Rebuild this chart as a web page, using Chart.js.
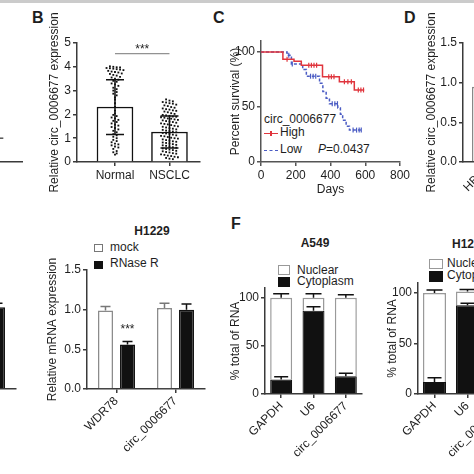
<!DOCTYPE html>
<html>
<head>
<meta charset="utf-8">
<script src="https://cdn.jsdelivr.net/npm/chart.js@4.4.1/dist/chart.umd.min.js"></script>
<style>
  body { margin: 0; background: #fff; }
  #fig { position: relative; width: 474px; height: 474px; overflow: hidden; background: #fff;
         font-family: "Liberation Sans", Arial, sans-serif; color: #1e1e1e; }
  #fig canvas { position: absolute; }
  .t { position: absolute; font-size: 12px; line-height: 14px; white-space: nowrap; }
  .letter { position: absolute; font-size: 16px; line-height: 18px; font-weight: bold; }
  .bold { font-weight: bold; }
  .sw { position: absolute; box-sizing: border-box; }
</style>
</head>
<body>
<div id="fig">
  <div style="position:absolute;left:0;top:0;width:474px;height:3px;background:#cbcbcb"></div>

  <div class="letter" style="left:32px;top:9px">B</div>
  <div class="letter" style="left:213px;top:9px">C</div>
  <div class="letter" style="left:404px;top:9px">D</div>
  <div class="letter" style="left:231px;top:215px">F</div>

  <!-- C legend -->
  <div class="t" style="left:264px;top:112px">circ_0006677</div>
  <div class="sw" style="left:264px;top:133px;width:14px;height:0;border-top:1.5px solid #e0353d"></div>
  <div class="sw" style="left:270px;top:131px;width:1.5px;height:5px;background:#e0353d"></div>
  <div class="t" style="left:280px;top:125px">High</div>
  <div class="sw" style="left:264px;top:150px;width:14px;height:0;border-top:1.5px dashed #4b5cc4"></div>
  <div class="t" style="left:280px;top:142px">Low</div>
  <div class="t" style="left:318px;top:142px"><i>P</i>=0.0437</div>

  <!-- E legend -->
  <div class="t bold" style="left:122px;top:224px;width:60px;text-align:center">H1229</div>
  <div class="sw" style="left:94px;top:244px;width:9px;height:8px;border:1.2px solid #777;background:#fff"></div>
  <div class="t" style="left:110px;top:240px">mock</div>
  <div class="sw" style="left:94px;top:261px;width:9px;height:8px;background:#111"></div>
  <div class="t" style="left:110px;top:256px">RNase R</div>

  <!-- F legends -->
  <div class="t bold" style="left:285px;top:236px;width:60px;text-align:center">A549</div>
  <div class="sw" style="left:278px;top:265px;width:12px;height:10px;border:1.2px solid #999;background:#fff"></div>
  <div class="t" style="left:297px;top:263px">Nuclear</div>
  <div class="sw" style="left:278px;top:277px;width:12px;height:10px;background:#111"></div>
  <div class="t" style="left:297px;top:274px">Cytoplasm</div>

  <div class="t bold" style="left:452px;top:237px">H1229</div>
  <div class="sw" style="left:429px;top:259px;width:14px;height:10px;border:1.2px solid #999;background:#fff"></div>
  <div class="t" style="left:447px;top:256px">Nuclear</div>
  <div class="sw" style="left:429px;top:271px;width:14px;height:11px;background:#111"></div>
  <div class="t" style="left:447px;top:268px">Cytoplasm</div>
</div>

<script>
// ---- data ----
// A (only the right edge is in the crop)
const aGroups = ['Normal', 'NSCLC'];
const aMedian = [2.1, 1.0];

// B
const bGroups = ['Normal', 'NSCLC'];
const bMeans = [2.31, 1.26];
const bSD = [1.15, 0.67];
const bNormal = [4.02, 4.0, 3.98, 3.97, 3.95, 3.94, 3.92, 3.9, 3.88, 3.86,
  3.83, 3.8, 3.78, 3.76, 3.72, 3.7, 3.66, 3.63, 3.58, 3.55, 3.5,
  3.46, 3.41, 3.37, 3.3, 3.26, 3.2, 3.12, 3.06, 3.0, 2.94, 2.87, 2.8, 2.71,
  2.62, 2.47, 2.31, 2.16, 2.04, 1.98,
  1.93, 1.87, 1.83, 1.77, 1.73, 1.68, 1.62, 1.57, 1.53, 1.47, 1.43, 1.37, 1.31, 1.25,
  1.17, 1.12, 1.06, 1.0,
  0.93, 0.88, 0.83, 0.77, 0.74, 0.7, 0.65, 0.61, 0.55,
  0.46, 0.41, 0.36, 0.31];
const bNsclc = [2.63, 2.58, 2.55, 2.52, 2.5, 2.47, 2.45, 2.41, 2.38, 2.35,
  2.31, 2.28, 2.25, 2.22, 2.2, 2.17, 2.15, 2.12, 2.09, 2.05, 2.02,
  1.98, 1.96, 1.94, 1.91, 1.9, 1.88, 1.86, 1.83, 1.82, 1.79, 1.77, 1.75, 1.72, 1.7, 1.68, 1.65, 1.62, 1.6,
  1.58, 1.55, 1.52, 1.5, 1.48, 1.45, 1.42, 1.4, 1.37, 1.35, 1.32, 1.3,
  1.28, 1.25, 1.22, 1.2, 1.18, 1.15, 1.12, 1.1, 1.08, 1.05, 1.02, 1.0,
  0.98, 0.95, 0.92, 0.9, 0.87, 0.85, 0.82, 0.8, 0.78, 0.75, 0.72, 0.7,
  0.68, 0.65, 0.62, 0.6, 0.57, 0.55, 0.52, 0.5, 0.47, 0.45, 0.42, 0.4,
  0.37, 0.35, 0.32, 0.3, 0.27, 0.25, 0.22, 0.2, 0.17, 0.14, 0.12];

// C (Kaplan-Meier steps)
const highDays = [0, 126, 190, 232, 354, 451, 537, 594];
const highSurv = [100, 93.5, 91.5, 88, 77.5, 73, 65.5, 65.5];
const highCensor = [150, 275, 290, 305, 320, 390, 405, 420, 480, 500, 520, 560, 575, 590];
const lowDays = [0, 150, 175, 240, 261, 337, 356, 375, 394, 442, 457, 470, 490, 509, 577];
const lowSurv = [100, 97, 89, 84, 78, 71.5, 64, 58, 53, 49, 43.5, 38, 32.5, 29, 29];
const lowCensor = [160, 180, 285, 300, 315, 410, 425, 440, 530, 550, 565, 577];
const cDayTicks = [0, 200, 400, 600, 800];
const cSurvTicks = [0, 50, 100];

// D
const dCells = ['HBE', 'A549', 'H1229', 'H1299', 'H460'];
const dExpr = [0.95, 0.42, 0.35, 0.5, 0.3];
const dTicks = [0, 0.5, 1.0, 1.5];

// E (RNase R)
const eGenes = ['WDR78', 'circ_0006677'];
const eTicks = [0, 0.5, 1.0, 1.5];
const eMockA549 = [1.0, 1.0];
const eMockErrA549 = [0.05, 0.05];
const eRnaseA549 = [0.5, 1.03];
const eRnaseErrA549 = [0.04, 0.05];
const eMockH1229 = [0.99, 1.02];
const eMockErrH1229 = [0.05, 0.06];
const eRnaseH1229 = [0.56, 1.0];
const eRnaseErrH1229 = [0.04, 0.07];

// F (fractionation)
const fGenes = ['GAPDH', 'U6', 'circ_0006677'];
const fTicks = [0, 50, 100];
const fCytoA549 = [15, 86.5, 18.5];
const fCytoErrA549 = [3, 4, 3];
const fNucA549 = [85, 13.5, 81.5];
const fNucErrA549 = [4, 4, 3];
const fCytoH1229 = [12, 88, 20];
const fCytoErrH1229 = [4, 2, 3];
const fNucH1229 = [88, 13.5, 80];
const fNucErrH1229 = [3, 2, 3];

// ---- style ----
const AXIS = '#3a3a3a';
const TXT = '#1e1e1e';
const RED = '#e0353d';
const BLUE = '#4b5cc4';

Chart.defaults.font.family = '"Liberation Sans", Arial, sans-serif';
Chart.defaults.font.size = 12;
Chart.defaults.color = TXT;
Chart.defaults.animation = false;
Chart.defaults.responsive = false;
Chart.defaults.events = [];
Chart.defaults.plugins.legend.display = false;
Chart.defaults.plugins.tooltip.enabled = false;

// error bars from dataset.errUp / errDown
const errorBars = {
  id: 'errorBars',
  afterDatasetsDraw(chart) {
    const ctx = chart.ctx;
    chart.data.datasets.forEach((ds, di) => {
      if (!ds.errUp) return;
      const meta = chart.getDatasetMeta(di);
      const ys = chart.scales[meta.yAxisID];
      ctx.save();
      ctx.strokeStyle = ds.errColor || '#111';
      ctx.lineWidth = 1.5;
      meta.data.forEach((el, i) => {
        const v = ys.getValueForPixel(el.y);
        const up = ys.getPixelForValue(v + ds.errUp[i]);
        const dn = ds.errDown ? ys.getPixelForValue(v - ds.errDown[i]) : el.y;
        const h = ds.capHalf || 6;
        ctx.beginPath();
        ctx.moveTo(el.x, dn);
        ctx.lineTo(el.x, up);
        ctx.moveTo(el.x - h, up);
        ctx.lineTo(el.x + h, up);
        if (ds.errDown) {
          ctx.moveTo(el.x - h, dn);
          ctx.lineTo(el.x + h, dn);
        }
        ctx.stroke();
      });
      ctx.restore();
    });
  }
};

// significance marks
const sig = {
  id: 'sig',
  afterDatasetsDraw(chart, args, opts) {
    if (!opts || !opts.marks) return;
    const { ctx, scales: { x, y } } = chart;
    ctx.save();
    ctx.font = '12px "Liberation Sans", Arial, sans-serif';
    ctx.fillStyle = TXT;
    ctx.textAlign = 'center';
    ctx.textBaseline = 'alphabetic';
    opts.marks.forEach(m => {
      let x0, x1;
      if (m.dataset !== undefined) {
        const el = chart.getDatasetMeta(m.dataset).data[m.index];
        x0 = x1 = el.x;
      } else {
        x0 = x.getPixelForValue(m.from);
        x1 = x.getPixelForValue(m.to);
      }
      if (m.line !== undefined) {
        const ly = y.getPixelForValue(m.line);
        ctx.strokeStyle = '#777';
        ctx.lineWidth = 1;
        ctx.beginPath();
        ctx.moveTo(x0, ly);
        ctx.lineTo(x1, ly);
        ctx.stroke();
      }
      ctx.fillText(m.text, (x0 + x1) / 2, y.getPixelForValue(m.textAt));
    });
    ctx.restore();
  }
};
Chart.register(errorBars, sig);

// ---- layout helpers ----
function place(id, box) {
  const c = document.createElement('canvas');
  c.id = id;
  c.width = box.w;
  c.height = box.h;
  c.style.left = box.x + 'px';
  c.style.top = box.y + 'px';
  c.style.width = box.w + 'px';
  c.style.height = box.h + 'px';
  document.getElementById('fig').appendChild(c);
  return c;
}

// box = canvas, area = wanted plot area (page px), titleX = centre of y title
function frame(box, area, titleX) {
  const left = titleX === null ? 0 : titleX - 7.2 - box.x;
  return {
    box: box,
    padding: { left: left, top: area.t - box.y, right: box.x + box.w - area.r, bottom: 0 },
    yWidth: area.l - box.x - left,
    xHeight: box.y + box.h - area.b,
  };
}

function yAxis(f, min, max, ticks, title, fmt, color) {
  const c = color || AXIS;
  return {
    type: 'linear', min: min, max: max,
    afterBuildTicks: s => { s.ticks = ticks.map(v => ({ value: v })); },
    afterFit: s => { s.width = f.yWidth; s.paddingTop = 0; s.paddingBottom = 0; },
    border: { color: c, width: 1.5 },
    grid: { drawOnChartArea: false, tickLength: 4, color: c, lineWidth: 1.5 },
    ticks: { color: TXT, padding: 2, font: { size: 12 }, callback: fmt || (v => v) },
    title: { display: !!title, text: title, color: TXT, font: { size: 12 }, padding: 0 },
  };
}

function xCat(f, rotate) {
  return {
    type: 'category',
    afterFit: s => { s.height = f.xHeight; s.paddingLeft = 0; s.paddingRight = 0; },
    border: { color: AXIS, width: 1.5 },
    grid: { drawOnChartArea: false, tickLength: 4, color: AXIS, lineWidth: 1.5, offset: false },
    ticks: { color: TXT, padding: 1, font: { size: 12 }, autoSkip: false,
             minRotation: rotate ? 45 : 0, maxRotation: rotate ? 45 : 0 },
  };
}

function baseOptions(f) {
  return { devicePixelRatio: 1, layout: { padding: f.padding, autoPadding: false } };
}

function swarm(values, center, binH, dx) {
  const bins = {};
  values.forEach(v => {
    const k = Math.round(v / binH);
    (bins[k] = bins[k] || []).push(v);
  });
  const pts = [];
  Object.values(bins).forEach(list => {
    list.forEach((v, j) => pts.push({ x: center + (j - (list.length - 1) / 2) * dx, y: v }));
  });
  return pts;
}

function steps(days, surv) {
  return days.map((d, i) => ({ x: d, y: surv[i] }));
}

function censor(days, surv, marks) {
  return marks.map(t => {
    let k = 0;
    days.forEach((d, i) => { if (d <= t) k = i; });
    return { x: t, y: surv[k] };
  });
}

// ---- A (edge only) ----
const fA = { padding: { left: 50, top: 43, right: 8, bottom: 0 }, xHeight: 38 };
new Chart(place('chartA', { x: -200, y: 0, w: 230, h: 200 }), {
  type: 'scatter',
  data: { datasets: [{
    data: aMedian.map((m, i) => ({ x: i, y: m })),
    pointStyle: 'line', pointRadius: 10, borderColor: '#555', borderWidth: 1.5,
  }] },
  options: Object.assign(baseOptions(fA), {
    scales: {
      x: { type: 'linear', min: -0.5, max: 1.3,
           afterFit: s => { s.height = fA.xHeight; s.paddingLeft = 0; s.paddingRight = 0; },
           border: { color: AXIS, width: 1.5 }, grid: { display: false },
           ticks: { display: false } },
      y: { display: false, min: 0, max: 5 },
    },
  }),
});

// ---- B ----
const fB = frame({ x: 28, y: 0, w: 190, h: 200 }, { l: 77, t: 43, r: 200, b: 162 }, 55);
new Chart(place('chartB', fB.box), {
  type: 'bar',
  data: { datasets: [
    { type: 'bar', data: bMeans.map((m, i) => ({ x: i, y: m })), barThickness: 36,
      backgroundColor: '#fff', borderColor: '#111', borderWidth: 1.5,
      errUp: bSD, errDown: bSD, capHalf: 9, order: 2 },
    { type: 'scatter', data: swarm(bNormal, 0, 0.13, 0.062).concat(swarm(bNsclc, 1, 0.13, 0.062)),
      pointStyle: 'rect', pointRadius: 1.3, backgroundColor: '#111', borderWidth: 0, order: 1 },
  ] },
  options: Object.assign(baseOptions(fB), {
    scales: {
      x: { type: 'linear', min: -0.697, max: 1.56, offset: false,
           afterBuildTicks: s => { s.ticks = bGroups.map((g, i) => ({ value: i })); },
           afterFit: s => { s.height = fB.xHeight; s.paddingLeft = 0; s.paddingRight = 0; },
           border: { color: AXIS, width: 1.5 },
           grid: { drawOnChartArea: false, tickLength: 4, color: AXIS, lineWidth: 1.5, offset: false },
           ticks: { color: TXT, padding: 2, font: { size: 12 }, callback: v => bGroups[v] } },
      y: yAxis(fB, 0, 5, [0, 1, 2, 3, 4, 5], 'Relative circ_0006677 expression'),
    },
    plugins: { sig: { marks: [{ from: 0, to: 1, line: 4.55, textAt: 4.58, text: '***' }] } },
  }),
});

// ---- C ----
const fC = frame({ x: 224, y: 0, w: 190, h: 200 }, { l: 261, t: 41, r: 400, b: 162 }, 236);
new Chart(place('chartC', fC.box), {
  type: 'scatter',
  data: { datasets: [
    { data: steps(highDays, highSurv), showLine: true, stepped: 'before',
      borderColor: RED, borderWidth: 1.5, pointRadius: 0 },
    { data: steps(lowDays, lowSurv), showLine: true, stepped: 'before',
      borderColor: BLUE, borderWidth: 1.5, borderDash: [3, 2], pointRadius: 0 },
    { data: censor(highDays, highSurv, highCensor), pointStyle: 'line', pointRotation: 90,
      pointRadius: 2.5, borderColor: RED, borderWidth: 1.2 },
    { data: censor(lowDays, lowSurv, lowCensor), pointStyle: 'line', pointRotation: 90,
      pointRadius: 2.5, borderColor: BLUE, borderWidth: 1.2 },
  ] },
  options: Object.assign(baseOptions(fC), {
    scales: {
      x: { type: 'linear', min: 0, max: 800,
           afterBuildTicks: s => { s.ticks = cDayTicks.map(v => ({ value: v })); },
           afterFit: s => { s.height = fC.xHeight; s.paddingLeft = 0; s.paddingRight = 0; },
           border: { color: '#555', width: 1.5 },
           grid: { drawOnChartArea: false, tickLength: 4, color: '#555', lineWidth: 1.5 },
           ticks: { color: TXT, padding: 2, font: { size: 12 } },
           title: { display: true, text: 'Days', color: TXT, font: { size: 12 }, padding: { top: 0, bottom: 3 } } },
      y: yAxis(fC, 0, 110, cSurvTicks, 'Percent survival (%)', null, '#555'),
    },
  }),
});

// ---- D ----
const fD = frame({ x: 400, y: 0, w: 270, h: 200 }, { l: 463, t: 43, r: 663, b: 162 }, 432);
new Chart(place('chartD', fD.box), {
  type: 'bar',
  data: { labels: dCells, datasets: [
    { data: dExpr, backgroundColor: '#fff', borderColor: '#888', borderWidth: 1.5,
      categoryPercentage: 1, barPercentage: 0.55 },
  ] },
  options: Object.assign(baseOptions(fD), {
    scales: {
      x: xCat(fD, true),
      y: yAxis(fD, 0, 1.5, dTicks, 'Relative circ_0006677 expression', v => v.toFixed(1)),
    },
  }),
});

// ---- E (A549 edge and H1229) ----
function rnaseChart(id, f, mock, mockErr, rnase, rnaseErr, marks) {
  return new Chart(place(id, f.box), {
    type: 'bar',
    data: { labels: eGenes, datasets: [
      { label: 'mock', data: mock, backgroundColor: '#fff', borderColor: '#8a8a8a', borderWidth: 1.5,
        categoryPercentage: 0.746, barPercentage: 0.68, errUp: mockErr, errColor: '#777', capHalf: 5 },
      { label: 'RNase R', data: rnase, backgroundColor: '#111', borderColor: '#111', borderWidth: 1.5,
        categoryPercentage: 0.746, barPercentage: 0.68, errUp: rnaseErr, errColor: '#111', capHalf: 5 },
    ] },
    options: Object.assign(baseOptions(f), {
      scales: {
        x: xCat(f, true),
        y: yAxis(f, 0, 1.5, eTicks, 'Relative mRNA expression', v => v.toFixed(1)),
      },
      plugins: { sig: { marks: marks } },
    }),
  });
}
const fE0 = frame({ x: -149, y: 220, w: 180, h: 254 }, { l: -102, t: 270, r: 16, b: 389 }, -136);
rnaseChart('chartE0', fE0, eMockA549, eMockErrA549, eRnaseA549, eRnaseErrA549, []);
const fE = frame({ x: 40, y: 220, w: 180, h: 254 }, { l: 87, t: 270, r: 205, b: 389 }, 53);
rnaseChart('chartE', fE, eMockH1229, eMockErrH1229, eRnaseH1229, eRnaseErrH1229,
  [{ dataset: 1, index: 0, textAt: 0.70, text: '***' }]);

// ---- F ----
function fracChart(id, f, cyto, cytoErr, nuc, nucErr, barPct) {
  return new Chart(place(id, f.box), {
    type: 'bar',
    data: { labels: fGenes, datasets: [
      { label: 'Cytoplasm', data: cyto, backgroundColor: '#111', borderColor: '#111', borderWidth: 1.2,
        categoryPercentage: 1, barPercentage: barPct, errUp: cytoErr, errColor: '#111', capHalf: 7 },
      { label: 'Nuclear', data: nuc, backgroundColor: '#fff', borderColor: '#9a9a9a', borderWidth: 1.5,
        categoryPercentage: 1, barPercentage: barPct, errUp: nucErr, errColor: '#111', capHalf: 8 },
    ] },
    options: Object.assign(baseOptions(f), {
      scales: {
        x: Object.assign(xCat(f, true), { stacked: true }),
        y: Object.assign(yAxis(f, 0, 110, fTicks, '% total of RNA'), { stacked: true }),
      },
    }),
  });
}
const fF1 = frame({ x: 224, y: 230, w: 150, h: 244 }, { l: 265, t: 288, r: 362, b: 394 }, 236);
fracChart('chartF1', fF1, fCytoA549, fCytoErrA549, fNucA549, fNucErrA549, 0.68);
const fF2 = frame({ x: 380, y: 230, w: 150, h: 244 }, { l: 418, t: 283, r: 517, b: 394 }, 393);
fracChart('chartF2', fF2, fCytoH1229, fCytoErrH1229, fNucH1229, fNucErrH1229, 0.7);
</script>
</body>
</html>
